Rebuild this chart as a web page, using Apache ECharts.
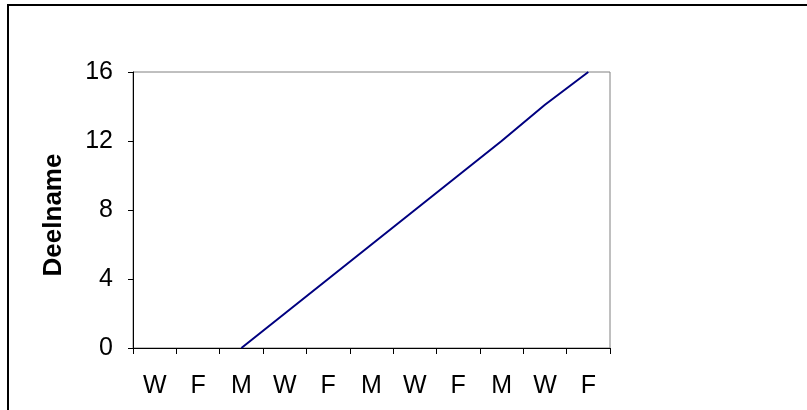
<!DOCTYPE html>
<html>
<head>
<meta charset="utf-8">
<script src="https://cdn.jsdelivr.net/npm/echarts@6/dist/echarts.min.js"></script>
<style>
html,body{margin:0;padding:0;background:#fff;}
#c{width:807px;height:410px;}
</style>
</head>
<body>
<div id="c"></div>
<script>
var categories = ['W','F','M','W','F','M','W','F','M','W','F'];
var deelname = [null, null, 0, 2, 4, 6, 8, 10, 12, 14.1, 16];
var yTicks = [0, 4, 8, 12, 16];
var yName = 'Deelname';

var chart = echarts.init(document.getElementById('c'), null, {renderer:'canvas'});
chart.setOption({
  animation: false,
  backgroundColor: '#fff',
  graphic: [{
    type: 'rect',
    shape: {x: 8, y: 5, width: 1000, height: 1000},
    style: {fill: null, stroke: '#000', lineWidth: 2},
    silent: true
  }],
  grid: {left: 133, top: 72, width: 477, height: 276, show: true, borderColor: '#808080', borderWidth: 1, backgroundColor: '#fff'},
  xAxis: {
    type: 'category',
    data: categories,
    boundaryGap: true,
    axisLine: {show: true, lineStyle: {color: '#000', width: 1}},
    axisTick: {show: true, length: 6, lineStyle: {color: '#000'}},
    axisLabel: {color: '#000', fontFamily: 'Liberation Sans, Arial', fontSize: 25, margin: 26},
    splitLine: {show: false}
  },
  yAxis: {
    type: 'value',
    min: yTicks[0], max: yTicks[yTicks.length-1], interval: 4,
    name: yName,
    nameLocation: 'middle',
    nameGap: 66,
    nameTextStyle: {color: '#000', fontFamily: 'Liberation Sans, Arial', fontSize: 26, fontWeight: 'bold', padding: [0, 10, 0, 0]},
    axisLine: {show: true, lineStyle: {color: '#000', width: 1}},
    axisTick: {show: true, length: 5, lineStyle: {color: '#000'}},
    axisLabel: {color: '#000', fontFamily: 'Liberation Sans, Arial', fontSize: 25, margin: 20},
    splitLine: {show: false}
  },
  series: [{
    type: 'line',
    data: deelname,
    showSymbol: false,
    symbol: 'none',
    lineStyle: {color: '#000080', width: 2},
    itemStyle: {color: '#000080'},
    connectNulls: false
  }]
});
</script>
</body>
</html>
